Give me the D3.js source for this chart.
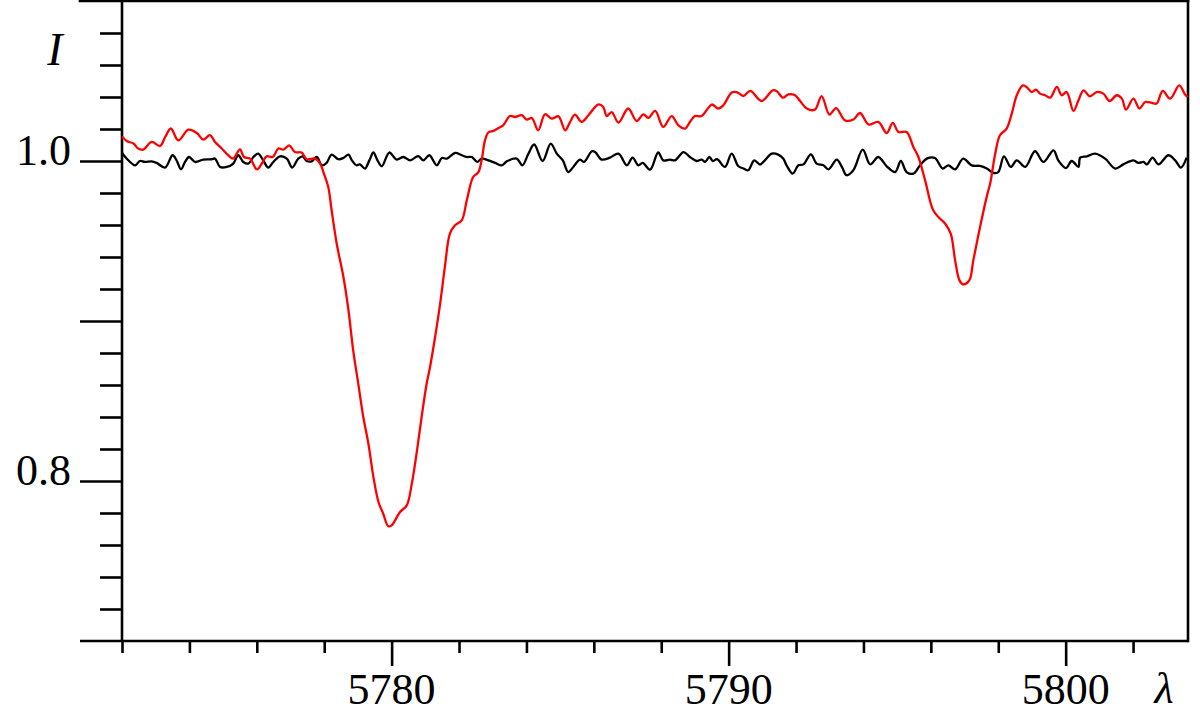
<!DOCTYPE html>
<html>
<head>
<meta charset="utf-8">
<script src="https://cdn.jsdelivr.net/npm/d3@7"></script>
<style>
html,body{margin:0;padding:0;background:#fff;}
svg{display:block;}
text{font-family:"Liberation Serif","Times New Roman",serif;fill:#000;}
</style>
</head>
<body>
<svg id="chart" width="1200" height="726"></svg>
<script>
// ---- data ----
const xDomain = [5772, 5803.63];
const yDomain = [0.7, 1.1];
const xMinorTicks = [5772,5774,5776,5778,5782,5784,5786,5788,5792,5794,5796,5798,5802];
const xMajorTicks = [5780, 5790, 5800];
const xTickLabels = ["5780", "5790", "5800"];
const yMinorTicks = [0.72,0.74,0.76,0.78,0.82,0.84,0.86,0.88,0.92,0.94,0.96,0.98,1.02,1.04,1.06,1.08];
const yMajorTicks = [0.8, 0.9, 1.0];
const yLabelTicks = [0.8, 1.0];
const yTickLabels = ["0.8", "1.0"];
const xAxisLabel = "λ";
const yAxisLabel = "I";

// black spectrum: wavelength / intensity
const blackLambda = [5772.00,5772.14,5772.39,5772.53,5772.68,5772.88,5773.03,5773.28,5773.50,5773.62,5773.75,5773.87,5773.99,5774.17,5774.41,5774.66,5774.76,5774.91,5775.11,5775.30,5775.45,5775.60,5775.75,5775.90,5776.04,5776.19,5776.34,5776.49,5776.69,5776.89,5777.05,5777.23,5777.36,5777.48,5777.63,5777.78,5777.93,5778.07,5778.22,5778.42,5778.57,5778.72,5778.82,5778.96,5779.06,5779.21,5779.34,5779.46,5779.58,5779.71,5779.93,5780.15,5780.35,5780.55,5780.79,5780.94,5781.12,5781.34,5781.49,5781.64,5781.88,5782.08,5782.23,5782.38,5782.54,5782.67,5782.87,5783.07,5783.27,5783.42,5783.71,5783.88,5784.06,5784.23,5784.48,5784.72,5784.90,5785.08,5785.24,5785.39,5785.59,5785.71,5785.94,5786.04,5786.23,5786.48,5786.73,5786.98,5787.15,5787.32,5787.45,5787.67,5787.91,5788.06,5788.26,5788.41,5788.66,5788.85,5789.05,5789.20,5789.30,5789.43,5789.53,5789.66,5789.89,5790.09,5790.29,5790.44,5790.58,5790.76,5790.93,5791.03,5791.28,5791.47,5791.62,5791.72,5791.90,5792.07,5792.22,5792.44,5792.61,5792.81,5792.96,5793.21,5793.36,5793.50,5793.70,5793.98,5794.20,5794.44,5794.69,5794.94,5795.11,5795.28,5795.48,5795.68,5795.88,5796.12,5796.35,5796.52,5796.72,5796.96,5797.21,5797.46,5797.66,5797.86,5798.00,5798.17,5798.37,5798.55,5798.80,5799.09,5799.34,5799.64,5799.78,5800.01,5800.18,5800.38,5800.43,5800.63,5800.87,5801.17,5801.47,5801.71,5802.01,5802.16,5802.31,5802.41,5802.58,5802.75,5803.05,5803.25,5803.42,5803.59];
const blackIntensity = [1.0050,1.0015,0.9973,1.0000,0.9994,0.9998,0.9988,0.9959,1.0036,1.0004,0.9948,0.9994,1.0025,0.9994,1.0009,1.0011,1.0015,0.9963,0.9963,0.9984,1.0036,0.9994,0.9984,1.0025,1.0046,1.0004,0.9959,0.9994,1.0029,1.0015,0.9959,1.0015,1.0029,1.0000,0.9998,1.0025,0.9973,0.9988,1.0040,1.0011,1.0019,1.0040,1.0004,0.9973,0.9979,0.9953,1.0004,1.0053,1.0004,0.9967,1.0053,1.0009,1.0025,1.0004,1.0031,1.0004,1.0036,0.9973,1.0019,1.0015,1.0050,1.0036,1.0025,1.0025,0.9994,1.0015,1.0004,0.9988,0.9973,0.9998,1.0015,0.9973,1.0046,1.0103,1.0000,1.0109,1.0046,1.0004,0.9931,0.9963,1.0009,0.9994,1.0061,1.0056,1.0009,1.0021,1.0046,0.9973,1.0021,0.9973,0.9988,0.9946,1.0053,1.0004,1.0009,1.0004,1.0056,1.0025,1.0000,1.0009,0.9994,1.0025,1.0000,1.0011,0.9963,1.0046,0.9967,0.9953,0.9942,1.0004,0.9978,0.9994,1.0046,1.0040,1.0015,0.9973,0.9921,0.9973,0.9979,1.0042,0.9984,0.9973,0.9948,1.0009,0.9963,0.9911,0.9942,1.0071,0.9979,1.0025,0.9967,0.9931,1.0000,0.9931,0.9921,0.9973,1.0015,1.0019,0.9953,0.9973,0.9948,1.0015,0.9973,0.9969,0.9953,0.9925,0.9931,1.0029,0.9963,1.0004,0.9963,1.0061,0.9994,1.0067,1.0004,0.9956,1.0000,0.9963,1.0021,1.0029,1.0046,1.0015,0.9953,0.9979,1.0004,0.9988,0.9994,0.9979,1.0021,0.9979,1.0036,1.0004,0.9959,1.0021];

// red spectrum: wavelength / intensity
const redLambda = [5772.00,5772.14,5772.34,5772.48,5772.63,5772.88,5773.13,5773.28,5773.45,5773.67,5773.97,5774.22,5774.41,5774.61,5774.76,5774.96,5775.15,5775.30,5775.50,5775.62,5775.80,5776.00,5776.15,5776.29,5776.47,5776.64,5776.79,5776.96,5777.13,5777.33,5777.48,5777.73,5777.88,5777.99,5778.12,5778.22,5778.37,5778.57,5778.72,5778.86,5779.01,5779.16,5779.31,5779.46,5779.61,5779.75,5779.90,5780.00,5780.25,5780.45,5780.60,5780.74,5780.89,5781.04,5781.14,5781.29,5781.44,5781.58,5781.73,5781.88,5782.08,5782.23,5782.42,5782.57,5782.67,5782.77,5782.87,5783.02,5783.17,5783.31,5783.51,5783.66,5783.86,5784.01,5784.16,5784.35,5784.55,5784.75,5784.95,5785.15,5785.29,5785.44,5785.64,5785.84,5786.13,5786.28,5786.38,5786.53,5786.73,5787.02,5787.27,5787.47,5787.62,5787.82,5788.06,5788.31,5788.51,5788.71,5788.85,5789.00,5789.20,5789.50,5789.69,5789.84,5790.09,5790.24,5790.44,5790.64,5790.98,5791.31,5791.43,5791.61,5791.77,5791.97,5792.12,5792.32,5792.56,5792.76,5792.99,5793.19,5793.45,5793.70,5793.90,5794.15,5794.44,5794.69,5794.87,5795.04,5795.28,5795.48,5795.63,5795.83,5796.07,5796.27,5796.42,5796.59,5796.72,5796.85,5796.96,5797.14,5797.26,5797.46,5797.68,5797.76,5797.91,5798.05,5798.25,5798.40,5798.55,5798.73,5798.86,5798.99,5799.12,5799.24,5799.39,5799.54,5799.74,5799.88,5800.03,5800.23,5800.38,5800.53,5800.72,5800.92,5801.12,5801.30,5801.52,5801.67,5801.79,5802.01,5802.19,5802.36,5802.56,5802.70,5802.88,5803.10,5803.37,5803.54,5803.62];
const redIntensity = [1.0154,1.0125,1.0109,1.0078,1.0071,1.0119,1.0094,1.0150,1.0203,1.0129,1.0196,1.0175,1.0134,1.0161,1.0119,1.0078,1.0036,1.0015,1.0073,1.0025,1.0015,0.9948,0.9984,1.0029,1.0025,1.0078,1.0071,1.0098,1.0056,1.0053,1.0011,1.0015,0.9984,0.9921,0.9838,0.9692,0.9484,0.9275,0.9067,0.8817,0.8609,0.8400,0.8234,0.8025,0.7869,0.7796,0.7717,0.7723,0.7806,0.7848,0.7984,0.8171,0.8400,0.8609,0.8713,0.8900,0.9109,0.9338,0.9546,0.9598,0.9629,0.9754,0.9900,0.9929,1.0004,1.0129,1.0178,1.0188,1.0206,1.0223,1.0281,1.0275,1.0286,1.0259,1.0269,1.0192,1.0292,1.0265,1.0279,1.0192,1.0242,1.0290,1.0244,1.0286,1.0353,1.0338,1.0281,1.0306,1.0240,1.0328,1.0250,1.0292,1.0269,1.0313,1.0213,1.0281,1.0223,1.0203,1.0244,1.0281,1.0281,1.0353,1.0328,1.0348,1.0428,1.0431,1.0406,1.0438,1.0375,1.0442,1.0436,1.0396,1.0417,1.0411,1.0375,1.0328,1.0321,1.0406,1.0290,1.0331,1.0254,1.0259,1.0300,1.0228,1.0244,1.0175,1.0238,1.0181,1.0181,1.0088,1.0025,0.9879,0.9692,0.9640,0.9609,0.9546,0.9379,0.9254,0.9229,0.9254,0.9379,0.9588,0.9796,0.9859,1.0046,1.0161,1.0203,1.0296,1.0411,1.0473,1.0459,1.0431,1.0446,1.0421,1.0411,1.0396,1.0463,1.0411,1.0431,1.0313,1.0379,1.0442,1.0404,1.0431,1.0421,1.0375,1.0411,1.0390,1.0321,1.0390,1.0328,1.0369,1.0363,1.0359,1.0438,1.0390,1.0473,1.0417,1.0400];

// ---- drawing ----
const svg = d3.select("#chart");
const x = d3.scaleLinear().domain(xDomain).range([122, 1188]);
const y = d3.scaleLinear().domain(yDomain).range([641, 1]);

const axisW = 2.6;
const leftFrame = 80;

// frame lines
const frame = svg.append("g").attr("stroke", "#000").attr("stroke-width", axisW).attr("fill", "none");
frame.append("line").attr("x1", leftFrame).attr("x2", x.range()[1]).attr("y1", y(yDomain[1])).attr("y2", y(yDomain[1])).attr("stroke-linecap","square");
frame.append("line").attr("x1", leftFrame).attr("x2", x.range()[1]).attr("y1", y(yDomain[0])).attr("y2", y(yDomain[0]));
frame.append("line").attr("x1", x.range()[1]).attr("x2", x.range()[1]).attr("y1", y(yDomain[1])).attr("y2", y(yDomain[0])).attr("stroke-linecap","square");
frame.append("line").attr("x1", x(xDomain[0])).attr("x2", x(xDomain[0])).attr("y1", y(yDomain[1])).attr("y2", y(yDomain[0]));

// axes via d3 axis generators
function styleAxis(g){
  g.select(".domain").remove();
  g.selectAll(".tick line").attr("stroke", "#000").attr("stroke-width", axisW);
}
svg.append("g").attr("transform", `translate(0,${y(yDomain[0])})`)
  .call(d3.axisBottom(x).tickValues(xMinorTicks).tickSize(12).tickFormat(""))
  .call(styleAxis);
svg.append("g").attr("transform", `translate(0,${y(yDomain[0])})`)
  .call(d3.axisBottom(x).tickValues(xMajorTicks).tickSize(25).tickFormat(""))
  .call(styleAxis);
svg.append("g").attr("transform", `translate(${x(xDomain[0])},0)`)
  .call(d3.axisLeft(y).tickValues(yMinorTicks).tickSize(22).tickFormat(""))
  .call(styleAxis);
svg.append("g").attr("transform", `translate(${x(xDomain[0])},0)`)
  .call(d3.axisLeft(y).tickValues(yMajorTicks).tickSize(42).tickFormat(""))
  .call(styleAxis);

// tick labels
svg.append("g").selectAll("text").data(xMajorTicks).join("text")
  .attr("x", d => x(d)).attr("y", 704)
  .attr("text-anchor", "middle").attr("font-size", 44)
  .text((d, i) => xTickLabels[i]);
svg.append("g").selectAll("text").data(yLabelTicks).join("text")
  .attr("x", 71).attr("y", d => y(d) + 4)
  .attr("text-anchor", "end").attr("font-size", 44)
  .text((d, i) => yTickLabels[i]);

// axis labels
svg.append("text").attr("x", 55).attr("y", 65).attr("text-anchor", "middle")
  .attr("font-size", 46).attr("font-style", "italic").text(yAxisLabel);
svg.append("text").attr("x", 1164).attr("y", 703).attr("text-anchor", "middle")
  .attr("font-size", 44).attr("font-style", "italic").text(xAxisLabel);

// spectra
const line = d3.line().x(d => x(d[0])).y(d => y(d[1])).curve(d3.curveCatmullRom.alpha(0.5));
const blackData = blackLambda.map((l, i) => [l, blackIntensity[i]]);
const redData = redLambda.map((l, i) => [l, redIntensity[i]]);

svg.append("path").datum(blackData).attr("d", line)
  .attr("fill", "none").attr("stroke", "#000").attr("stroke-width", 2.3).attr("stroke-linejoin", "round");
svg.append("path").datum(redData).attr("d", line)
  .attr("fill", "none").attr("stroke", "#ff0000").attr("stroke-width", 2.3).attr("stroke-linejoin", "round");
</script>
</body>
</html>
